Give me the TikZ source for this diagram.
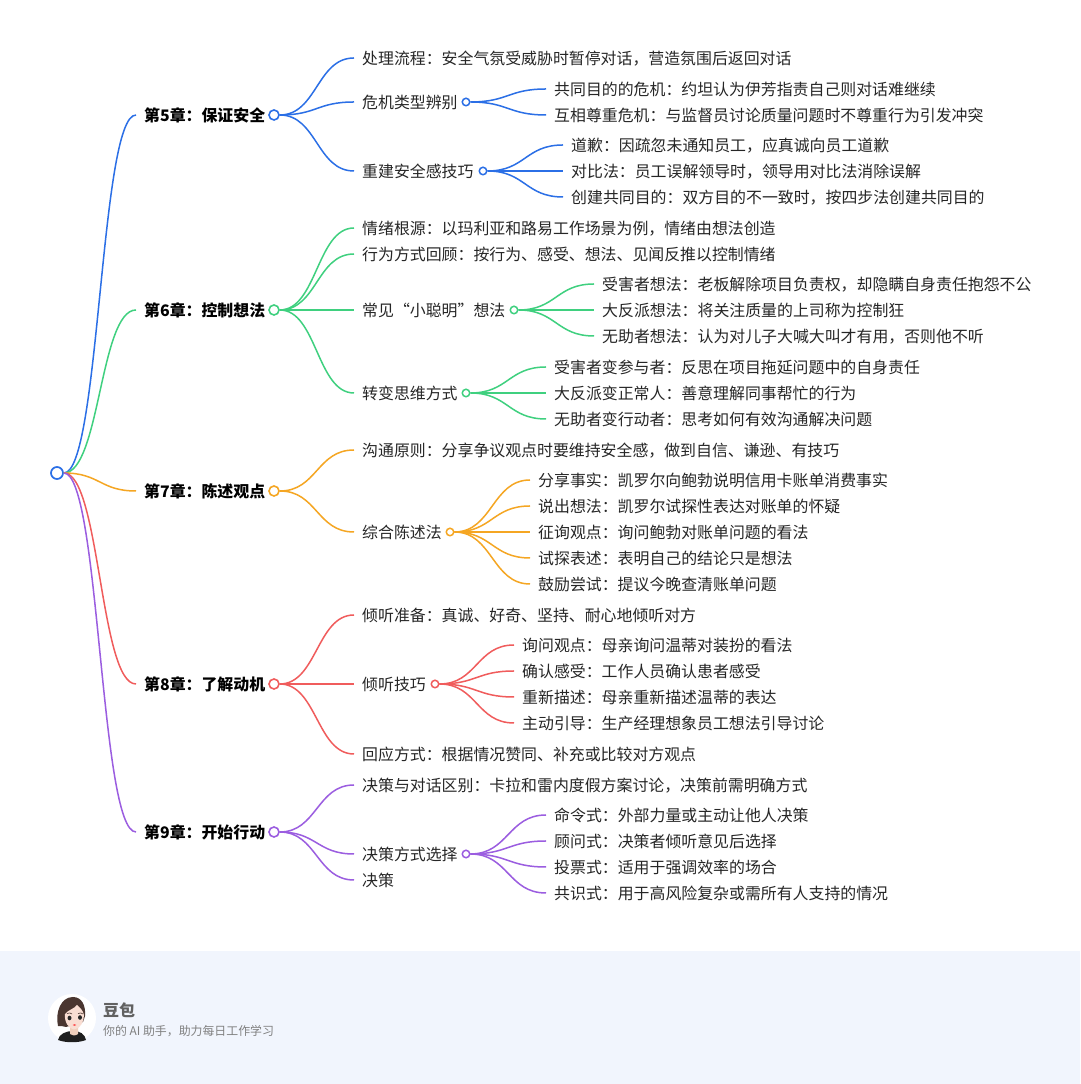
\documentclass[tikz,border=0pt]{standalone}
\usepackage{fontspec}
\usetikzlibrary{calc}
\setmainfont{Noto Sans CJK SC}
\definecolor{cblue}{HTML}{2B6FE6}
\definecolor{cgreen}{HTML}{3FD07F}
\definecolor{corange}{HTML}{F5A623}
\definecolor{cred}{HTML}{F05C5C}
\definecolor{cpurple}{HTML}{9B5DE0}
\definecolor{foot}{HTML}{F1F5FD}
\definecolor{ink}{HTML}{262626}
\definecolor{hair}{HTML}{4A3630}
\definecolor{skin}{HTML}{F9DDD2}
\tikzset{
  every node/.style={inner ysep=0pt},
  lab/.style={anchor=west,inner xsep=8pt,text height=15pt,text depth=1pt,font=\fontsize{15.9}{16}\selectfont,text=ink},
  chap/.style={lab,font=\fontsize{15.9}{16}\selectfont\bfseries,text=black},
  dot/.style={circle,draw=#1,fill=white,line width=1.5pt,minimum size=7.5pt,inner sep=0pt},
  bigdot/.style={circle,draw=#1,fill=white,line width=1.6pt,minimum size=10pt,inner sep=0pt},
  rootdot/.style={circle,draw=#1,fill=white,line width=1.7pt,minimum size=12pt,inner sep=0pt},
  foottext/.style={anchor=west,inner sep=0pt},
}
\newcommand{\lnk}[3]{\draw[#1,line width=1.5pt] let \p1=(#2.east),\p2=(#3.west),\n1={0.5*(\x2-\x1)} in (\p1) .. controls (\x1+\n1,\y1) and (\x2-\n1,\y2) .. (\p2);}
\newcommand{\lab}[4]{\node[lab] (#1) at (#2,{1084-#3}) {#4};}
\begin{document}
\begin{tikzpicture}[x=1pt,y=1pt]
\useasboundingbox (0,0) rectangle (1080,1084);
\fill[white] (0,0) rectangle (1080,1084);
\fill[foot] (0,0) rectangle (1080,133);

% chapters
\node[chap] (c5) at (136,{1084-115}) {第5章：保证安全};
\node[chap] (c6) at (136,{1084-310}) {第6章：控制想法};
\node[chap] (c7) at (136,{1084-491}) {第7章：陈述观点};
\node[chap] (c8) at (136,{1084-684}) {第8章：了解动机};
\node[chap] (c9) at (136,{1084-832}) {第9章：开始行动};
\node[bigdot=cblue] (d5) at (274,{1084-115}) {};
\node[bigdot=cgreen] (d6) at (274,{1084-310}) {};
\node[bigdot=corange] (d7) at (274,{1084-491}) {};
\node[bigdot=cred] (d8) at (274,{1084-684}) {};
\node[bigdot=cpurple] (d9) at (274,{1084-832}) {};
\node[rootdot=cblue] (root) at (57,{1084-473}) {};

% level 2 and 3 labels
\lab{a1}{354}{58}{处理流程：安全气氛受威胁时暂停对话，营造氛围后返回对话}
\lab{a2}{354}{102}{危机类型辨别}
\lab{a3}{354}{171}{重建安全感技巧}
\node[dot=cblue] (a2d) at (466,{1084-102}) {};
\node[dot=cblue] (a3d) at (483,{1084-171}) {};
\lab{a21}{546}{89}{共同目的的危机：约坦认为伊芳指责自己则对话难继续}
\lab{a22}{546}{115}{互相尊重危机：与监督员讨论质量问题时不尊重行为引发冲突}
\lab{a31}{563}{145}{道歉：因疏忽未通知员工，应真诚向员工道歉}
\lab{a32}{563}{171}{对比法：员工误解领导时，领导用对比法消除误解}
\lab{a33}{563}{197}{创建共同目的：双方目的不一致时，按四步法创建共同目的}

\lab{b1}{354}{228}{情绪根源：以玛利亚和路易工作场景为例，情绪由想法创造}
\lab{b2}{354}{254}{行为方式回顾：按行为、感受、想法、见闻反推以控制情绪}
\lab{b3}{354}{310}{常见“小聪明”想法}
\lab{b4}{354}{393}{转变思维方式}
\node[dot=cgreen] (b3d) at (514,{1084-310}) {};
\node[dot=cgreen] (b4d) at (466,{1084-393}) {};
\lab{b31}{594}{284}{受害者想法：老板解除项目负责权，却隐瞒自身责任抱怨不公}
\lab{b32}{594}{310}{大反派想法：将关注质量的上司称为控制狂}
\lab{b33}{594}{336}{无助者想法：认为对儿子大喊大叫才有用，否则他不听}
\lab{b41}{546}{367}{受害者变参与者：反思在项目拖延问题中的自身责任}
\lab{b42}{546}{393}{大反派变正常人：善意理解同事帮忙的行为}
\lab{b43}{546}{419}{无助者变行动者：思考如何有效沟通解决问题}

\lab{e1}{354}{450}{沟通原则：分享争议观点时要维持安全感，做到自信、谦逊、有技巧}
\lab{e2}{354}{532}{综合陈述法}
\node[dot=corange] (e2d) at (450,{1084-532}) {};
\lab{e21}{530}{480}{分享事实：凯罗尔向鲍勃说明信用卡账单消费事实}
\lab{e22}{530}{506}{说出想法：凯罗尔试探性表达对账单的怀疑}
\lab{e23}{530}{532}{征询观点：询问鲍勃对账单问题的看法}
\lab{e24}{530}{558}{试探表述：表明自己的结论只是想法}
\lab{e25}{530}{584}{鼓励尝试：提议今晚查清账单问题}

\lab{f1}{354}{615}{倾听准备：真诚、好奇、坚持、耐心地倾听对方}
\lab{f2}{354}{684}{倾听技巧}
\lab{f3}{354}{754}{回应方式：根据情况赞同、补充或比较对方观点}
\node[dot=cred] (f2d) at (435,{1084-684}) {};
\lab{f21}{514}{645}{询问观点：母亲询问温蒂对装扮的看法}
\lab{f22}{514}{671}{确认感受：工作人员确认患者感受}
\lab{f23}{514}{697}{重新描述：母亲重新描述温蒂的表达}
\lab{f24}{514}{723}{主动引导：生产经理想象员工想法引导讨论}

\lab{g1}{354}{785}{决策与对话区别：卡拉和雷内度假方案讨论，决策前需明确方式}
\lab{g2}{354}{854}{决策方式选择}
\lab{g3}{354}{880}{决策}
\node[dot=cpurple] (g2d) at (466,{1084-854}) {};
\lab{g21}{546}{815}{命令式：外部力量或主动让他人决策}
\lab{g22}{546}{841}{顾问式：决策者倾听意见后选择}
\lab{g23}{546}{867}{投票式：适用于强调效率的场合}
\lab{g24}{546}{893}{共识式：用于高风险复杂或需所有人支持的情况}

% connectors
\lnk{cblue}{root}{c5}\lnk{cgreen}{root}{c6}\lnk{corange}{root}{c7}\lnk{cred}{root}{c8}\lnk{cpurple}{root}{c9}
\lnk{cblue}{d5}{a1}\lnk{cblue}{d5}{a2}\lnk{cblue}{d5}{a3}
\lnk{cblue}{a2d}{a21}\lnk{cblue}{a2d}{a22}
\lnk{cblue}{a3d}{a31}\lnk{cblue}{a3d}{a32}\lnk{cblue}{a3d}{a33}
\lnk{cgreen}{d6}{b1}\lnk{cgreen}{d6}{b2}\lnk{cgreen}{d6}{b3}\lnk{cgreen}{d6}{b4}
\lnk{cgreen}{b3d}{b31}\lnk{cgreen}{b3d}{b32}\lnk{cgreen}{b3d}{b33}
\lnk{cgreen}{b4d}{b41}\lnk{cgreen}{b4d}{b42}\lnk{cgreen}{b4d}{b43}
\lnk{corange}{d7}{e1}\lnk{corange}{d7}{e2}
\lnk{corange}{e2d}{e21}\lnk{corange}{e2d}{e22}\lnk{corange}{e2d}{e23}\lnk{corange}{e2d}{e24}\lnk{corange}{e2d}{e25}
\lnk{cred}{d8}{f1}\lnk{cred}{d8}{f2}\lnk{cred}{d8}{f3}
\lnk{cred}{f2d}{f21}\lnk{cred}{f2d}{f22}\lnk{cred}{f2d}{f23}\lnk{cred}{f2d}{f24}
\lnk{cpurple}{d9}{g1}\lnk{cpurple}{d9}{g2}\lnk{cpurple}{d9}{g3}
\lnk{cpurple}{g2d}{g21}\lnk{cpurple}{g2d}{g22}\lnk{cpurple}{g2d}{g23}\lnk{cpurple}{g2d}{g24}

% footer
\node[foottext,font=\fontsize{16}{16}\selectfont\bfseries,text=black!62] (ft) at (103,{1084-1010}) {豆包};
\node[foottext,font=\fontsize{11.9}{12}\selectfont,text=black!50] (fs) at (103,{1084-1031}) {你的 AI 助手，助力每日工作学习};

% avatar
\begin{scope}[shift={(72,66)}]
\fill[white] (0,0) circle (24);
% body and neck
\fill[black!88] (-14,-22) .. controls (-13,-16) and (-6,-13) .. (1,-13) .. controls (8,-13) and (13,-16) .. (14,-22) .. controls (6,-25) and (-6,-25) .. (-14,-22) -- cycle;
\fill[skin!85!brown] (-2,-16) .. controls (0,-18) and (3,-18) .. (6,-16) -- (6,-8) -- (-2,-8) -- cycle;
% hair back
\fill[hair] (-14,-8) .. controls (-17,6) and (-11,21) .. (1,21) .. controls (10,21) and (14,12) .. (13,2) -- (11,-4) -- (-6,-9) .. controls (-9,-8) and (-11,-8) .. (-14,-8) -- cycle;
% face
\fill[skin] (-7,4) .. controls (-8,-4) and (-3,-11) .. (2,-11.5) .. controls (8,-11) and (12,-4) .. (12,3) .. controls (11,8) and (8,10) .. (5,13) .. controls (2,9) and (-4,8) .. (-7,4) -- cycle;
% eyes, brows, lips
\fill[black!85] (-2.5,0) ellipse (2 and 2.3);
\fill[black!85] (8,0.5) ellipse (2 and 2.3);
\draw[hair,line width=0.6pt] (-5,4.5) .. controls (-3,5.5) and (-1,5) .. (0,4);
\draw[hair,line width=0.6pt] (6,4.5) .. controls (8,5.5) and (10,5) .. (11,4);
\fill[red!65!white] (2.5,-7) ellipse (1.8 and 0.9);
\end{scope}
\end{tikzpicture}
\end{document}
